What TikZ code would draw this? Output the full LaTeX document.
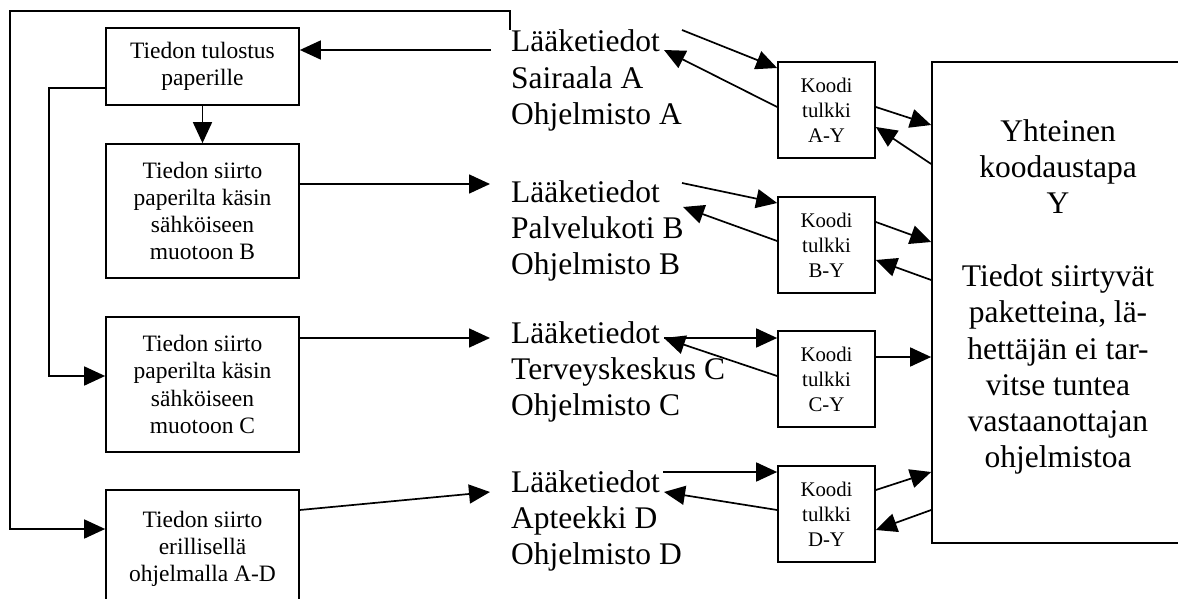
\documentclass[tikz,border=0pt]{standalone}
\usepackage{fontspec}
\setmainfont{Liberation Serif}
\usetikzlibrary{arrows.meta}
\newcommand\threeln[3]{\vtop{\hbox{#1}\hbox{#2}\hbox{#3}}}
\begin{document}
\begin{tikzpicture}[x=1pt,y=-1pt,
  arr/.style={-{Triangle[length=21pt,width=19pt]}, line width=1.7pt},
  lbox/.style={draw, line width=1.7pt, minimum width=193pt, align=center,
    font=\fontsize{23.5}{27.3}\selectfont, inner sep=0pt},
  kbox/.style={draw, line width=1.7pt, minimum width=97pt, minimum height=96pt,
    align=center, font=\fontsize{20.8}{25}\selectfont, inner sep=0pt},
  ltext/.style={anchor=base west, inner sep=0pt, font=\fontsize{31.5}{36.3}\selectfont},
  ybox/.style={draw, line width=1.7pt, minimum width=252pt, minimum height=481pt, inner sep=0pt},
  ytext/.style={align=center, inner sep=0pt, font=\fontsize{31.5}{36.3}\selectfont}]
\useasboundingbox (0,0) rectangle (1178,599);
\fill[white] (0,0) rectangle (1178,599);

% left boxes
\node[lbox, minimum height=77pt] (b1) at (202.5,66.5) {Tiedon tulostus\\paperille};
\node[lbox, minimum height=134pt] (b2) at (202.5,211) {Tiedon siirto\\paperilta käsin\\sähköiseen\\muotoon B};
\node[lbox, minimum height=135pt] (b3) at (202.5,384.5) {Tiedon siirto\\paperilta käsin\\sähköiseen\\muotoon C};
\node[lbox, minimum height=118pt] (b4) at (202.5,549) {Tiedon siirto\\erillisellä\\ohjelmalla A-D};

% text blocks
\node[ltext] (LA) at (511,52) {\threeln{Lääketiedot}{Sairaala A}{Ohjelmisto A}};
\node[ltext] (LB) at (511,202) {\threeln{Lääketiedot}{Palvelukoti B}{Ohjelmisto B}};
\node[ltext] (LC) at (511,343) {\threeln{Lääketiedot}{Terveyskeskus C}{Ohjelmisto C}};
\node[ltext] (LD) at (511,492) {\threeln{Lääketiedot}{Apteekki D}{Ohjelmisto D}};

% code interpreters
\node[kbox] (kA) at (826.5,110) {Koodi\\tulkki\\A-Y};
\node[kbox] (kB) at (826.5,245) {Koodi\\tulkki\\B-Y};
\node[kbox] (kC) at (826.5,379) {Koodi\\tulkki\\C-Y};
\node[kbox] (kD) at (826.5,514) {Koodi\\tulkki\\D-Y};

% common coding box
\node[ybox] (Y) at (1058,302.5) {};
\node[ytext] (Yt) at (1058,297) {Yhteinen\\koodaustapa\\Y\\[36.3pt]Tiedot siirtyvät\\paketteina, lä-\\hettäjän ei tar-\\vitse tuntea\\vastaanottajan\\ohjelmistoa};

% left side connectors
\coordinate (pA) at (491,50);
\draw[arr] (pA) -- (pA -| b1.east);
\coordinate (pB) at (490,184);
\draw[arr] (pB -| b2.east) -- (pB);
\coordinate (pC) at (490,338);
\draw[arr] (pC -| b3.east) -- (pC);
\coordinate (pD) at (490,492);
\draw[arr] (b4.east |- 0,510) -- (pD);
\draw[arr] (b1) -- (b2);
\coordinate (tA) at (510,30);
\draw[arr] (tA) -- (510,11) -- (10,11) -- (10,529) -- (b4.west |- 0,529);
\draw[arr] (b1.west |- 0,88) -- (49,88) |- (b3.west |- 0,376);

% text <-> interpreters
\coordinate (qA) at (682,30);
\draw[arr] (qA) -- (kA.west |- 0,68);
\coordinate (rA) at (664,50);
\draw[arr] (kA.west |- 0,107) -- (rA);
\coordinate (qB) at (682,183);
\draw[arr] (qB) -- (kB.west |- 0,203);
\coordinate (rB) at (683,207);
\draw[arr] (kB.west |- 0,241) -- (rB);
\coordinate (qC) at (664,338);
\draw[arr] (qC) -- (kC.west |- 0,338);
\draw[arr] (kC.west |- 0,376) -- (qC);
\coordinate (qD) at (663,472);
\draw[arr] (qD) -- (kD.west |- 0,472);
\coordinate (rD) at (664,492);
\draw[arr] (kD.west |- 0,510) -- (rD);

% interpreters <-> common coding
\draw[arr] (kA.east |- 0,107) -- (Y.west |- 0,125);
\draw[arr] (Y.west |- 0,164) -- (kA.east |- 0,127);
\draw[arr] (kB.east |- 0,222) -- (Y.west |- 0,242);
\draw[arr] (Y.west |- 0,280) -- (kB.east |- 0,260);
\draw[arr] (kC.east |- 0,357) -- (Y.west |- 0,357);
\draw[arr] (kD.east |- 0,490) -- (Y.west |- 0,472);
\draw[arr] (Y.west |- 0,510) -- (kD.east |- 0,530);
\end{tikzpicture}
\end{document}
